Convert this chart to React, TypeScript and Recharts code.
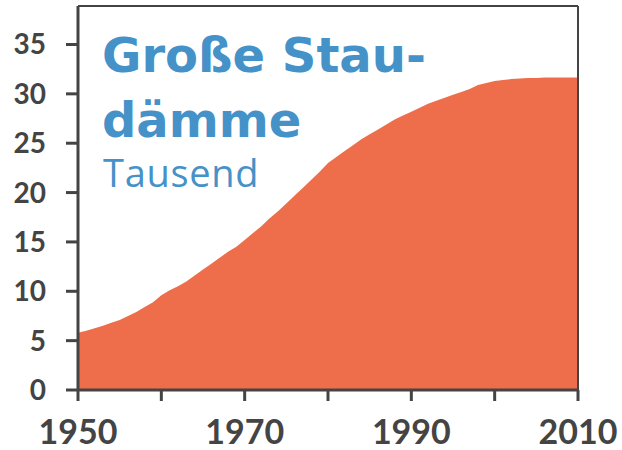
import * as React from "react";
import {
  AreaChart,
  Area,
  XAxis,
  YAxis,
  ReferenceLine,
} from "recharts";

// Große Staudämme weltweit, in Tausend
const years = [
  1950, 1951, 1952, 1953, 1954, 1955, 1956, 1957, 1958, 1959,
  1960, 1961, 1962, 1963, 1964, 1965, 1966, 1967, 1968, 1969,
  1970, 1971, 1972, 1973, 1974, 1975, 1976, 1977, 1978, 1979,
  1980, 1981, 1982, 1983, 1984, 1985, 1986, 1987, 1988, 1989,
  1990, 1991, 1992, 1993, 1994, 1995, 1996, 1997, 1998, 1999,
  2000, 2001, 2002, 2003, 2004, 2005, 2006, 2007, 2008, 2009,
  2010,
];

const dams = [
  5.8, 6.0, 6.25, 6.5, 6.8, 7.1, 7.5, 7.9, 8.4, 8.9,
  9.6, 10.1, 10.5, 11.0, 11.6, 12.2, 12.8, 13.4, 14.0, 14.5,
  15.2, 15.9, 16.6, 17.4, 18.1, 18.9, 19.7, 20.5, 21.3, 22.1,
  23.0, 23.6, 24.2, 24.8, 25.4, 25.9, 26.4, 26.9, 27.4, 27.8,
  28.2, 28.6, 29.0, 29.3, 29.6, 29.9, 30.2, 30.5, 30.9, 31.1,
  31.3, 31.4, 31.5, 31.55, 31.6, 31.6, 31.65, 31.65, 31.65, 31.65,
  31.65,
];

const xTicks = [1950, 1960, 1970, 1980, 1990, 2000, 2010];
const xLabels = [1950, 1970, 1990, 2010];
const yTicks = [0, 5, 10, 15, 20, 25, 30, 35];
const yMax = 38.9;

const data = years.map((year, i) => ({ year, value: dams[i] }));

const axisColor = "#444444";
const titleColor = "#4592c9";

export default function App() {
  return (
    <div
      style={{
        position: "absolute",
        left: 0,
        top: 0,
        width: 622,
        height: 450,
        background: "#ffffff",
      }}
    >
      <AreaChart
        width={622}
        height={450}
        data={data}
        margin={{ top: 6, right: 44, left: 0, bottom: 0 }}
      >
        <XAxis
          dataKey="year"
          type="number"
          domain={[1950, 2010]}
          ticks={xTicks}
          height={60}
          tickSize={11}
          tickMargin={19}
          stroke={axisColor}
          strokeWidth={3}
          tick={{
            fill: axisColor,
            fontSize: 34,
            fontFamily: "Lato",
            fontWeight: 700,
          }}
          tickFormatter={(v) => (xLabels.includes(v) ? String(v) : "")}
        />
        <YAxis
          type="number"
          domain={[0, yMax]}
          ticks={yTicks}
          width={78}
          tickSize={12}
          tickMargin={20}
          stroke={axisColor}
          strokeWidth={3}
          tick={{
            fill: axisColor,
            fontSize: 28,
            fontFamily: "Lato",
            fontWeight: 700,
          }}
        />
        <Area
          type="linear"
          dataKey="value"
          stroke="none"
          fill="#ee6e4b"
          fillOpacity={1}
          isAnimationActive={false}
        />
        <ReferenceLine y={yMax} stroke={axisColor} strokeWidth={2} />
        <ReferenceLine x={2010} stroke={axisColor} strokeWidth={2} />
      </AreaChart>

      <div
        style={{
          position: "absolute",
          left: 102,
          top: 23,
          color: titleColor,
          fontFamily: "DejaVu Sans",
          fontWeight: 700,
          fontSize: 48,
          lineHeight: "65px",
          whiteSpace: "nowrap",
        }}
      >
        <div>Große Stau-</div>
        <div>dämme</div>
      </div>
      <div
        style={{
          position: "absolute",
          left: 103,
          top: 150,
          color: titleColor,
          fontFamily: "Open Sans",
          fontWeight: 400,
          fontSize: 38,
          lineHeight: "44px",
          letterSpacing: 0.7,
          whiteSpace: "nowrap",
        }}
      >
        Tausend
      </div>
    </div>
  );
}
